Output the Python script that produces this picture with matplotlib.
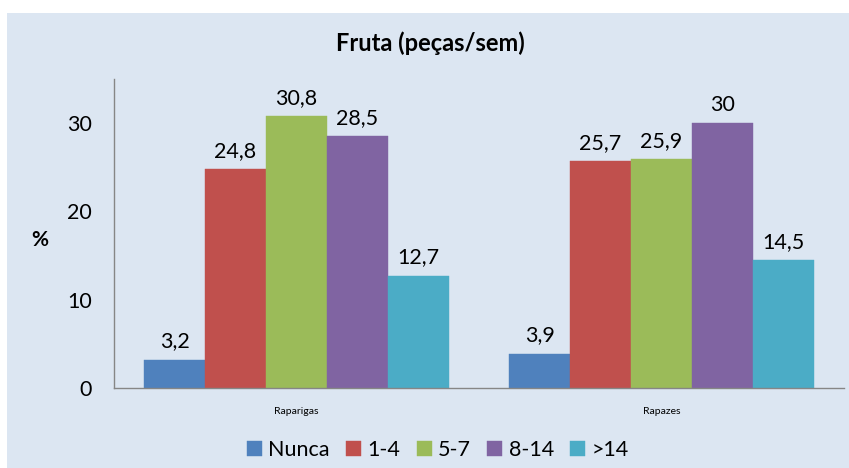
import matplotlib
matplotlib.use("Agg")
import matplotlib.pyplot as plt
import numpy as np

categories = ["Raparigas", "Rapazes"]
series = ["Nunca", "1-4", "5-7", "8-14", ">14"]
nunca = [3.2, 3.9]
um_quatro = [24.8, 25.7]
cinco_sete = [30.8, 25.9]
oito_catorze = [28.5, 30.0]
mais_catorze = [12.7, 14.5]
labels = [["3,2", "3,9"], ["24,8", "25,7"], ["30,8", "25,9"], ["28,5", "30"], ["12,7", "14,5"]]
colors = ["#4f81bd", "#c0504d", "#9bbb59", "#8064a2", "#4bacc6"]
values = [nunca, um_quatro, cinco_sete, oito_catorze, mais_catorze]

plt.rcParams['font.family'] = ['Lato', 'DejaVu Sans']

fig = plt.figure(figsize=(8.49, 4.68), dpi=100)
fig.patch.set_facecolor("white")
bgax = fig.add_axes([7/849, 0, 1 - 7/849, 1 - 13/468], zorder=-10)
bgax.set_facecolor("#dce6f2")
bgax.set_xticks([]); bgax.set_yticks([])
for sp in bgax.spines.values():
    sp.set_visible(False)

ax = fig.add_axes([114/849, 1 - 388/468, (844 - 114)/849, (388 - 79)/468], zorder=1)
ax.set_facecolor("none")

x = np.arange(len(categories))
bw = 0.167
for i, (s, v, c) in enumerate(zip(series, values, colors)):
    pos = x + (i - 2) * bw
    ax.bar(pos, v, width=bw, color=c, label=s, edgecolor=c, linewidth=0.3)
    for p, val, lab in zip(pos, v, labels[i]):
        ax.annotate(lab, (p, val), xytext=(0, 6), textcoords="offset points",
                    ha="center", va="bottom", fontsize=15.5, color="black")

ax.set_xlim(-0.5, 1.5)
ax.set_ylim(0, 35)
ax.set_yticks([0, 10, 20, 30])
ax.set_yticklabels(["0", "10", "20", "30"], fontsize=15.5)
ax.set_xticks(x)
ax.set_xticklabels(categories, fontsize=7.5)
ax.tick_params(axis="x", length=0, pad=14)
ax.tick_params(axis="y", length=0, pad=16)
for sp in ["top", "right"]:
    ax.spines[sp].set_visible(False)
for sp in ["left", "bottom"]:
    ax.spines[sp].set_color("#868686")
    ax.spines[sp].set_linewidth(1)

fig.text(430/849, 1 - 43/468, "Fruta (peças/sem)", ha="center", va="center",
         fontsize=17, fontweight="bold")
fig.text(40/849, 1 - 240/468, "%", ha="center", va="center", fontsize=15, fontweight="bold")

fig.legend(loc="center", bbox_to_anchor=(438/849, 1 - 450/468), ncol=5,
           frameon=False, fontsize=15.5, handlelength=0.7, handleheight=0.7,
           handletextpad=0.3, columnspacing=0.75)

fig.savefig("out.png", dpi=100)
